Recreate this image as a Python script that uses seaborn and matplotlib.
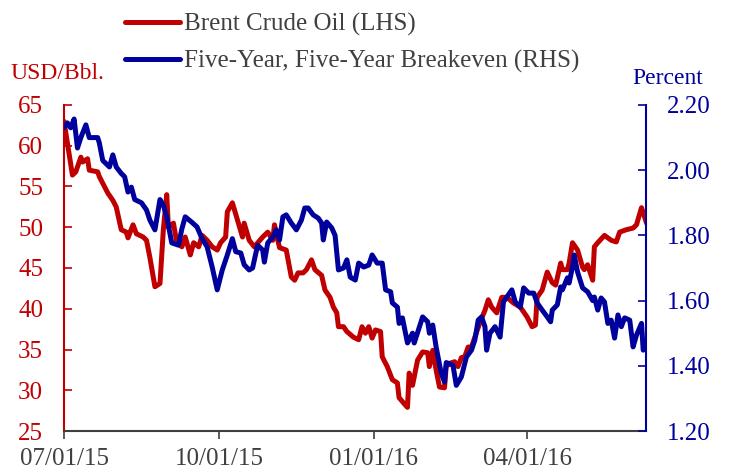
import pandas as pd
import numpy as np
import matplotlib
matplotlib.use("Agg")
import matplotlib.pyplot as plt
import matplotlib.dates as mdates
import seaborn as sns

# ── Data ──────────────────────────────────────────────────
START = pd.Timestamp("2015-07-01")

oil_days = [0, 5, 7, 10, 11, 14, 15, 20, 21, 26, 29, 31, 34, 37, 38, 41, 43, 47, 49, 51,
            54, 57, 59, 61, 62, 65, 67, 70, 72, 75, 77, 80, 82, 85, 88, 91, 93, 96, 97, 100,
            103, 106, 107, 110, 113, 118, 121, 124, 125, 128, 132, 135, 137, 139, 142, 144,
            147, 149, 153, 155, 158, 160, 162, 163, 166, 168, 172, 175, 177, 179, 181, 183,
            185, 188, 189, 192, 195, 198, 199, 201, 204, 205, 207, 210, 213, 216, 217, 219,
            221, 223, 226, 227, 229, 232, 234, 236, 238, 240, 242, 244, 247, 250, 252, 254,
            257, 260, 263, 267, 271, 275, 278, 280, 281, 284, 287, 290, 292, 295, 296, 299,
            300, 302, 305, 308, 309, 311, 314, 315, 317, 321, 325, 328, 330, 334, 338, 340,
            343, 346]
oil_usd = [63.0, 56.4, 56.8, 58.6, 58.0, 58.4, 57.0, 56.8, 56.2, 54.2, 53.3, 52.5, 49.7, 49.4,
           48.7, 50.3, 49.2, 48.8, 48.4, 46.3, 42.7, 43.1, 49.7, 54.0, 50.0, 50.5, 48.1, 47.6,
           48.8, 46.6, 48.1, 47.6, 49.0, 48.4, 47.6, 47.2, 48.1, 48.8, 51.9, 53.0, 50.9, 48.8,
           50.5, 48.4, 47.6, 48.8, 49.4, 48.4, 50.3, 47.5, 47.2, 43.9, 43.5, 44.4, 44.4, 44.8,
           46.0, 44.8, 44.1, 42.3, 41.4, 40.2, 39.5, 37.8, 37.8, 37.2, 36.5, 36.2, 37.8, 37.0,
           37.8, 36.4, 37.4, 37.2, 34.1, 32.9, 31.3, 30.9, 29.1, 28.6, 27.9, 32.1, 30.6, 33.7,
           34.7, 34.6, 32.9, 34.9, 32.5, 30.4, 30.3, 32.9, 33.3, 33.5, 32.9, 34.0, 34.1, 35.3,
           35.3, 36.5, 38.3, 39.8, 41.1, 40.2, 39.5, 41.4, 41.4, 40.7, 40.2, 39.0, 37.8, 38.0,
           41.4, 42.3, 44.5, 43.2, 42.9, 45.6, 44.8, 44.8, 45.6, 48.1, 47.2, 45.1, 44.8, 45.4,
           43.5, 47.6, 48.1, 49.0, 48.4, 48.2, 49.4, 49.7, 49.9, 50.3, 52.4, 50.5]

be_days = [0, 2, 4, 6, 8, 10, 13, 15, 20, 21, 23, 27, 29, 31, 34, 36, 38, 40, 42, 46, 49, 51,
           54, 57, 59, 61, 64, 68, 70, 72, 76, 79, 82, 85, 88, 91, 94, 97, 100, 102, 105, 107,
           110, 112, 115, 118, 119, 121, 124, 126, 128, 130, 132, 135, 138, 141, 143, 145, 148,
           151, 153, 154, 156, 159, 161, 163, 166, 168, 170, 173, 175, 178, 181, 183, 186, 189,
           191, 194, 195, 198, 199, 201, 204, 207, 208, 213, 216, 217, 219, 221, 224, 226, 227,
           231, 233, 236, 239, 242, 244, 246, 248, 250, 251, 253, 256, 259, 261, 263, 266, 268,
           271, 273, 276, 279, 281, 284, 287, 289, 290, 293, 295, 296, 299, 300, 302, 303, 305,
           308, 311, 314, 315, 317, 319, 321, 323, 325, 327, 329, 331, 333, 336, 338, 340, 343,
           344, 346]
be_pct = [2.13, 2.145, 2.13, 2.157, 2.068, 2.10, 2.139, 2.10, 2.10, 2.083, 2.03, 2.01, 2.047,
          2.01, 1.99, 1.98, 1.933, 1.948, 1.91, 1.90, 1.878, 1.847, 1.817, 1.91, 1.893, 1.857,
          1.777, 1.77, 1.82, 1.857, 1.84, 1.826, 1.79, 1.765, 1.703, 1.633, 1.694, 1.74, 1.79,
          1.75, 1.746, 1.71, 1.694, 1.70, 1.77, 1.755, 1.718, 1.777, 1.795, 1.817, 1.786, 1.857,
          1.863, 1.838, 1.817, 1.847, 1.884, 1.884, 1.863, 1.853, 1.838, 1.786, 1.841, 1.823,
          1.80, 1.694, 1.70, 1.725, 1.672, 1.663, 1.715, 1.703, 1.709, 1.74, 1.715, 1.715, 1.633,
          1.627, 1.593, 1.58, 1.53, 1.547, 1.47, 1.50, 1.47, 1.55, 1.535, 1.50, 1.525, 1.458,
          1.378, 1.35, 1.41, 1.402, 1.34, 1.366, 1.427, 1.448, 1.479, 1.54, 1.55, 1.52, 1.448,
          1.50, 1.52, 1.488, 1.596, 1.611, 1.633, 1.596, 1.58, 1.639, 1.623, 1.623, 1.593, 1.571,
          1.55, 1.535, 1.571, 1.587, 1.642, 1.633, 1.67, 1.654, 1.703, 1.74, 1.688, 1.639, 1.627,
          1.60, 1.611, 1.571, 1.608, 1.596, 1.53, 1.54, 1.485, 1.556, 1.52, 1.547, 1.54, 1.458,
          1.494, 1.53, 1.448, 1.458]

x_ticks = ["2015-07-01", "2015-10-01", "2016-01-01", "2016-04-01"]
left_ticks = [25, 30, 35, 40, 45, 50, 55, 60, 65]
right_ticks = [1.20, 1.40, 1.60, 1.80, 2.00, 2.20]

OIL_LABEL = "Brent Crude Oil (LHS)"
BE_LABEL = "Five-Year, Five-Year Breakeven (RHS)"

RED = "#C00000"
BLUE = "#00009C"
GREY = "#404040"

oil = pd.DataFrame({"date": START + pd.to_timedelta(oil_days, unit="D"), "value": oil_usd})
be = pd.DataFrame({"date": START + pd.to_timedelta(be_days, unit="D"), "value": be_pct})

# ── Style ─────────────────────────────────────────────────
sns.set_style("white")
plt.rcParams["font.family"] = ["Liberation Serif", "DejaVu Serif"]

fig = plt.figure(figsize=(7.29, 4.74), dpi=100)
ax = fig.add_axes([0.0878, 0.0907, 0.886 - 0.0878, 0.7785 - 0.0907])
ax2 = ax.twinx()

sns.lineplot(data=oil, x="date", y="value", ax=ax, color=RED, lw=3.6, label=OIL_LABEL, legend=False)
sns.lineplot(data=be, x="date", y="value", ax=ax2, color=BLUE, lw=3.6, label=BE_LABEL, legend=False)

ax.set_xlim(START, START + pd.Timedelta(days=345.6))
ax.set_ylim(25, 65)
ax2.set_ylim(1.20, 2.20)
ax.set_xticks(pd.to_datetime(x_ticks))
ax.xaxis.set_major_formatter(mdates.DateFormatter("%m/%d/%y"))
ax.set_yticks(left_ticks)
ax2.set_yticks(right_ticks)
ax2.set_yticklabels([f"{v:.2f}" for v in right_ticks])
ax.set_xlabel("")
ax.set_ylabel("")
ax2.set_ylabel("")

for a in (ax, ax2):
    a.grid(False)
    a.spines["top"].set_visible(False)
    for s in a.spines.values():
        s.set_linewidth(1.5)
ax.spines["left"].set_color(RED)
ax.spines["right"].set_visible(False)
ax.spines["bottom"].set_color(GREY)
ax2.spines["left"].set_visible(False)
ax2.spines["bottom"].set_visible(False)
ax2.spines["right"].set_color(BLUE)

ax.tick_params(axis="y", direction="in", length=6, width=1.2, color=RED,
               labelcolor=RED, labelsize=18, pad=15, left=True)
ax.tick_params(axis="x", direction="out", length=6, width=1.2, color=GREY,
               labelcolor=GREY, labelsize=18, pad=6, bottom=True)
ax2.tick_params(axis="y", direction="in", length=6, width=1.2, color=BLUE,
                labelcolor=BLUE, labelsize=18, pad=15, right=True)

fig.text(0.015, 0.845, "USD/Bbl.", color=RED, fontsize=17, va="center", ha="left")
fig.text(0.868, 0.834, "Percent", color=BLUE, fontsize=17, va="center", ha="left")

handles = ax.get_lines()[:1] + ax2.get_lines()[:1]
leg = fig.legend(handles, [OIL_LABEL, BE_LABEL], loc="upper left",
                 bbox_to_anchor=(0.141, 1.02), frameon=False, fontsize=18,
                 handlelength=2.2, handletextpad=0.15, labelspacing=0.55)
for t in leg.get_texts():
    t.set_color(GREY)

fig.savefig("out.png", dpi=100)
plt.close(fig)
